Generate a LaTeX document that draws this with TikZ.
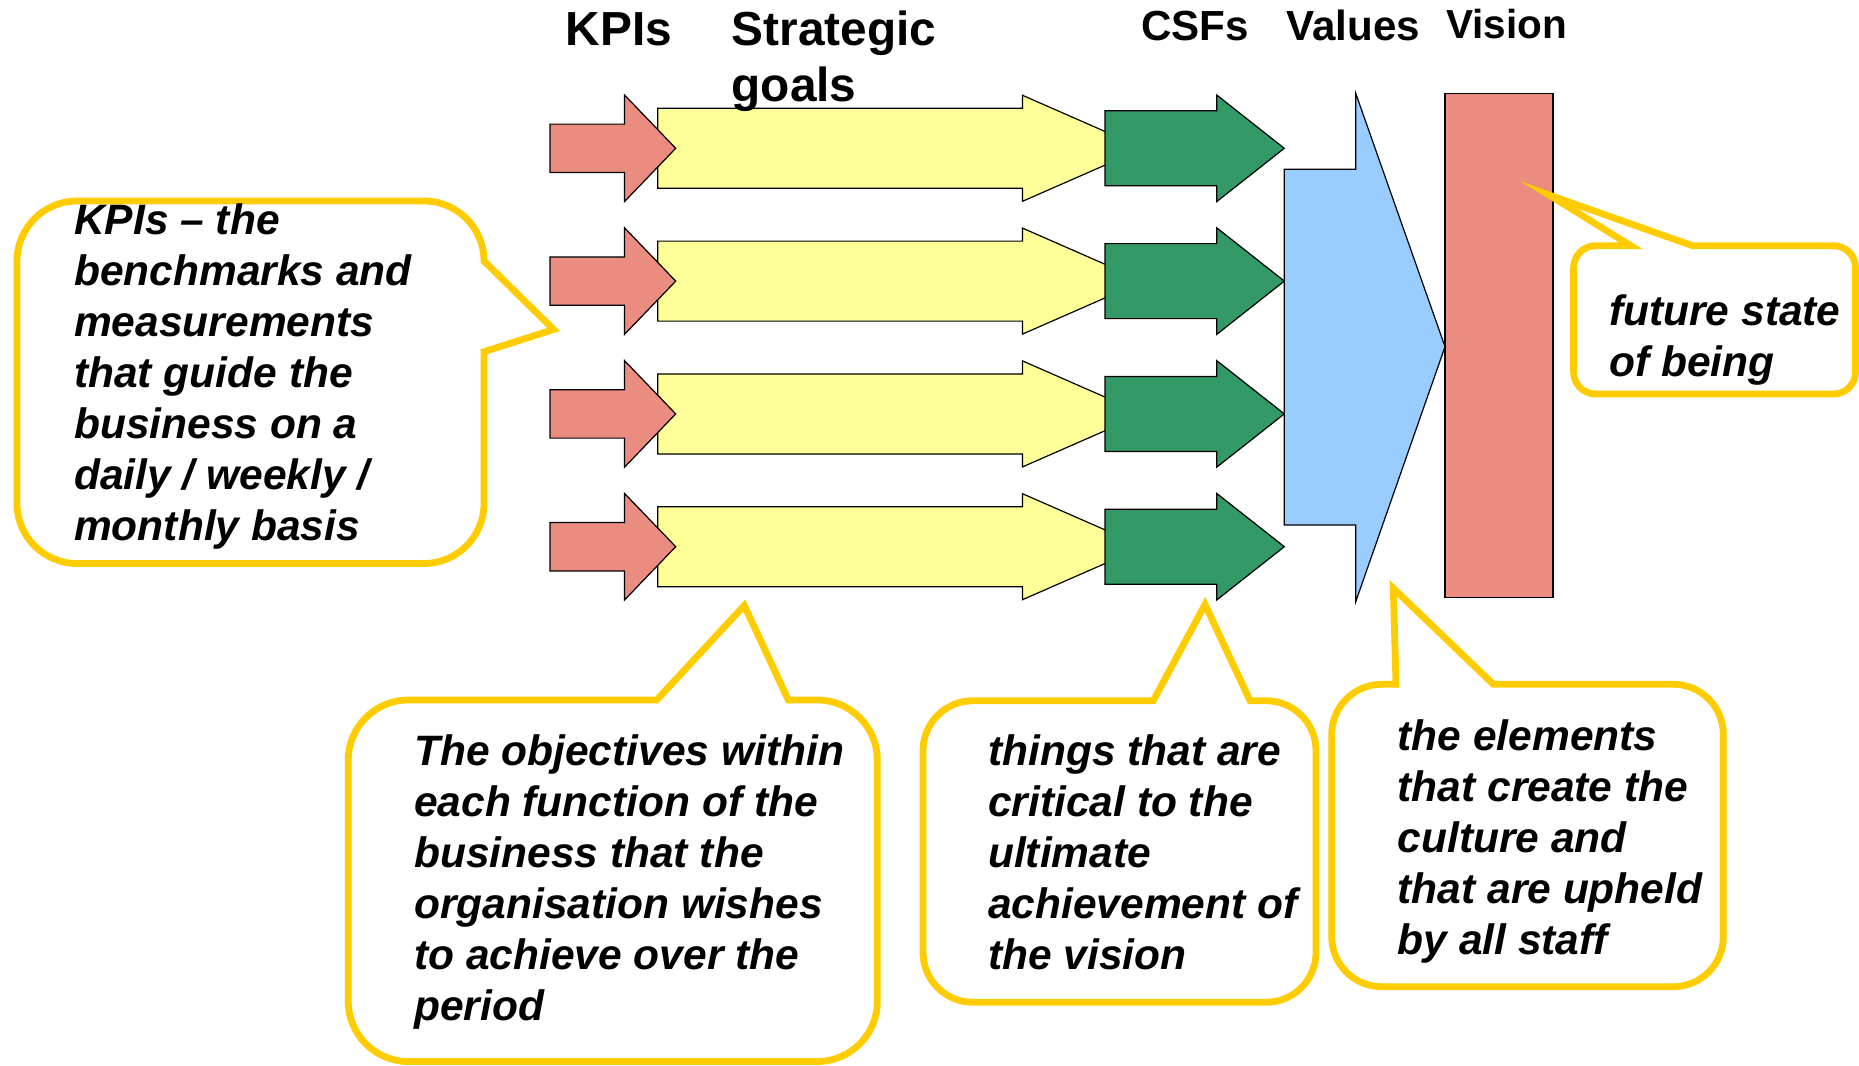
\documentclass[tikz,border=0pt]{standalone}
\usepackage{fontspec}
\setmainfont{Liberation Sans}
\definecolor{pinkc}{HTML}{EA8C80}
\definecolor{yellowc}{HTML}{FFFF99}
\definecolor{greenc}{HTML}{339966}
\definecolor{bluec}{HTML}{99CCFF}
\definecolor{calloutc}{HTML}{FFCC00}
\begin{document}
\begin{tikzpicture}[x=1pt,y=-1pt,
  shp/.style={draw=black, line width=1.2pt, line join=miter},
  callout/.style={draw=calloutc, fill=white, line width=6.8pt, line join=miter, miter limit=20},
  cotext/.style={font=\fontsize{42.5pt}{51pt}\selectfont\bfseries\itshape, inner sep=0pt, anchor=base west},
  hdrbig/.style={font=\fontsize{47.8pt}{56pt}\selectfont\bfseries, inner sep=0pt, anchor=base west},
  hdrsmall/.style={font=\fontsize{42.1pt}{50pt}\selectfont\bfseries, inner sep=0pt, anchor=base west}]
\useasboundingbox (0,0) rectangle (1859,1065);
\fill[white] (0,0) rectangle (1859,1065);

% rows of arrows
\foreach \cy in {148.3,281.1,413.9,546.7}{
  \draw[shp, fill=yellowc] (657.7,{\cy-40}) -- (1022.5,{\cy-40}) -- (1022.5,{\cy-53}) -- (1143.4,\cy)
     -- (1022.5,{\cy+53}) -- (1022.5,{\cy+40}) -- (657.7,{\cy+40}) -- cycle;
  \draw[shp, fill=pinkc] (550,{\cy-24.2}) -- (624.5,{\cy-24.2}) -- (624.5,{\cy-53.3}) -- (675.7,\cy)
     -- (624.5,{\cy+53.3}) -- (624.5,{\cy+24.2}) -- (550,{\cy+24.2}) -- cycle;
  \draw[shp, fill=greenc] (1105,{\cy-37.5}) -- (1216.7,{\cy-37.5}) -- (1216.7,{\cy-53.3}) -- (1284.3,\cy)
     -- (1216.7,{\cy+53.3}) -- (1216.7,{\cy+37.5}) -- (1105,{\cy+37.5}) -- cycle;
}

% values arrow
\draw[shp, fill=bluec] (1284.3,169.3) -- (1355.7,169.3) -- (1355.7,93.3) -- (1445,346.7)
   -- (1355.7,601.7) -- (1355.7,525) -- (1284.3,525) -- cycle;
% vision bar
\draw[shp, fill=pinkc] (1445,93.3) rectangle (1553,597.3);

% headers
\node[hdrbig] (kpis) at (565.5,45.7) {KPIs};
\node[hdrbig] (strat) at (731.5,45.7) {\begin{tabular}[t]{@{}l@{}}Strategic\\goals\end{tabular}};
\node[hdrsmall] (csfs) at (1141.3,40.7) {CSFs};
\node[hdrsmall] (values) at (1286.3,40.7) {Values};
\node[hdrsmall, font=\fontsize{40.5pt}{48pt}\selectfont\bfseries] (vision) at (1446,38.3) {Vision};

% KPI callout
\draw[callout] (553.6,329.5) -- (484,351.7) -- (484,503.5) .. controls (484,536.6) and (457.1,563.5) .. (424,563.5)
  -- (77,563.5) .. controls (43.9,563.5) and (17,536.6) .. (17,503.5)
  -- (17,261) .. controls (17,227.9) and (43.9,201) .. (77,201)
  -- (424,201) .. controls (457.1,201) and (484,227.9) .. (484,261) -- cycle;
\node[cotext] (kpitext) at (74,234.5) {\begin{tabular}[t]{@{}l@{}}KPIs – the\\benchmarks and\\measurements\\that guide the\\business on a\\daily / weekly /\\monthly basis\end{tabular}};

% objectives callout
\draw[callout] (744.3,605.5) -- (656.7,700) -- (408.3,700) .. controls (375.2,700) and (348.3,726.9) .. (348.3,760)
  -- (348.3,1001.5) .. controls (348.3,1034.6) and (375.2,1061.5) .. (408.3,1061.5)
  -- (817.3,1061.5) .. controls (850.4,1061.5) and (877.3,1034.6) .. (877.3,1001.5)
  -- (877.3,760) .. controls (877.3,726.9) and (850.4,700) .. (817.3,700) -- (788.3,700) -- cycle;
\node[cotext] (objtext) at (414,765.7) {\begin{tabular}[t]{@{}l@{}}The objectives within\\each function of the\\business that the\\organisation wishes\\to achieve over the\\period\end{tabular}};

% CSF callout
\draw[callout] (1205,604.5) -- (1153.3,700.7) -- (973,700.7) .. controls (945.4,700.7) and (923,723.1) .. (923,750.7)
  -- (923,952.3) .. controls (923,979.9) and (945.4,1002.3) .. (973,1002.3)
  -- (1266,1002.3) .. controls (1293.6,1002.3) and (1316,979.9) .. (1316,952.3)
  -- (1316,750.7) .. controls (1316,723.1) and (1293.6,700.7) .. (1266,700.7) -- (1250,700.7) -- cycle;
\node[cotext] (csftext) at (988,765) {\begin{tabular}[t]{@{}l@{}}things that are\\critical to the\\ultimate\\achievement of\\the vision\end{tabular}};

% values callout
\draw[callout] (1393.3,588.3) -- (1396,684.3) -- (1381.7,684.3) .. controls (1354.1,684.3) and (1331.7,706.7) .. (1331.7,734.3)
  -- (1331.7,936.7) .. controls (1331.7,964.3) and (1354.1,986.7) .. (1381.7,986.7)
  -- (1673.3,986.7) .. controls (1700.9,986.7) and (1723.3,964.3) .. (1723.3,936.7)
  -- (1723.3,734.3) .. controls (1723.3,706.7) and (1700.9,684.3) .. (1673.3,684.3) -- (1493.3,684.3) -- cycle;
\node[cotext] (valtext) at (1397.5,750) {\begin{tabular}[t]{@{}l@{}}the elements\\that create the\\culture and\\that are upheld\\by all staff\end{tabular}};

% vision callout
\draw[callout] (1549,195) -- (1630.8,245.7) -- (1595.6,245.7) .. controls (1583.45,245.7) and (1573.6,255.55) .. (1573.6,267.7)
  -- (1573.6,372) .. controls (1573.6,384.15) and (1583.45,394) .. (1595.6,394)
  -- (1833.5,394) .. controls (1845.65,394) and (1855.5,384.15) .. (1855.5,372)
  -- (1855.5,267.7) .. controls (1855.5,255.55) and (1845.65,245.7) .. (1833.5,245.7) -- (1692.5,245.7) -- cycle;
\node[cotext] (vistext) at (1609,325.7) {\begin{tabular}[t]{@{}l@{}}future state\\of being\end{tabular}};
\end{tikzpicture}
\end{document}
